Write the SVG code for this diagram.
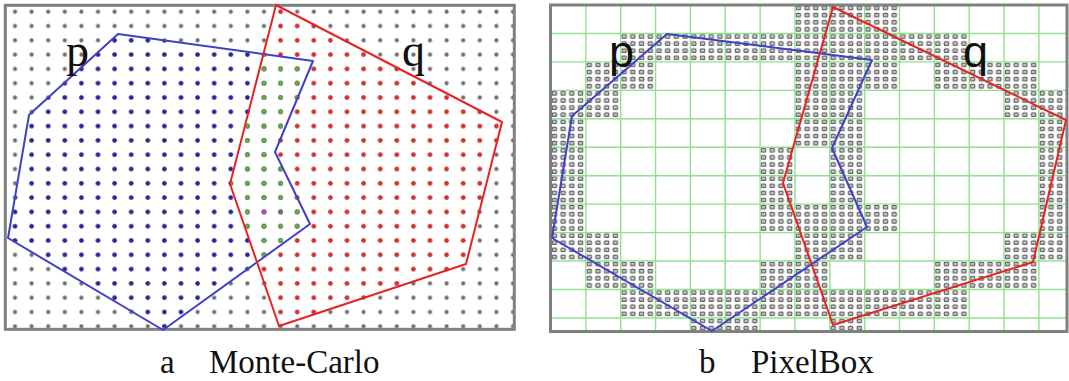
<svg xmlns="http://www.w3.org/2000/svg" width="1069" height="381" viewBox="0 0 1069 381">
<style>
.frame{fill:none;stroke:#808080;stroke-width:3}
.pl{fill:none;stroke:#4040c8;stroke-width:2;stroke-linejoin:round}
.ql{fill:none;stroke:#e82222;stroke-width:2;stroke-linejoin:round}
.grid line{stroke:#8fe08f;stroke-width:1.4}
.cells rect{fill:url(#fd)}
.serif{font-family:"Liberation Serif","Times New Roman",serif;fill:#111}
.sans{font-family:"Liberation Sans",Arial,sans-serif;fill:#111}
</style>
<defs>
<pattern id="dg" patternUnits="userSpaceOnUse" x="6.7" y="4.55" width="16.6" height="14.3"><circle cx="8.3" cy="7.15" r="2.1" fill="#707070"/></pattern>
<pattern id="db" patternUnits="userSpaceOnUse" x="6.7" y="4.55" width="16.6" height="14.3"><circle cx="8.3" cy="7.15" r="2.2" fill="#2424a4"/></pattern>
<pattern id="dr" patternUnits="userSpaceOnUse" x="6.7" y="4.55" width="16.6" height="14.3"><circle cx="8.3" cy="7.15" r="2.2" fill="#e62a2a"/></pattern>
<pattern id="dgr" patternUnits="userSpaceOnUse" x="6.7" y="4.55" width="16.6" height="14.3"><circle cx="8.3" cy="7.15" r="2.2" fill="#45c245"/></pattern>
<pattern id="fd" patternUnits="userSpaceOnUse" x="551" y="5" width="8.7125" height="7.1125"><rect x="1.2" y="1.2" width="4.4" height="3.6" rx="0.9" fill="#c4c4c4" stroke="#5e5e5e" stroke-width="1.1"/></pattern>
<clipPath id="cp"><polygon points="118,34 313,61 275,152 310,224 163,330 8,238 29,115"/></clipPath>
<clipPath id="cq"><polygon points="276,5 502,122 466,264 279,326 230,184"/></clipPath>
</defs>

<g id="panel-a">
  <g id="dots-a">
    <rect x="7" y="6" width="506" height="323" fill="url(#dg)"/>
    <rect x="7" y="6" width="506" height="323" fill="url(#db)" clip-path="url(#cp)"/>
    <rect x="7" y="6" width="506" height="323" fill="url(#dr)" clip-path="url(#cq)"/>
    <g clip-path="url(#cp)"><rect x="7" y="6" width="506" height="323" fill="url(#dgr)" clip-path="url(#cq)"/></g>
    <circle cx="264" cy="211.9" r="2.1" fill="#c040c0"/>
    <circle cx="280.6" cy="211.9" r="2.2" fill="#707070"/>
  </g>
  <rect class="frame" x="5.3" y="5.3" width="509" height="324"/>
  <g id="poly-p-a"><polygon class="pl" points="118,34 313,61 275,152 310,224 163,330 8,238 29,115"/></g>
  <g id="poly-q-a"><polygon class="ql" points="276,5 502,122 466,264 279,326 230,184"/></g>
  <text class="serif" x="66" y="66" font-size="46">p</text>
  <text class="serif" x="402" y="66" font-size="46">q</text>
</g>

<g id="panel-b">
  <g class="cells" id="cells-b">
    <rect x="794.95" y="5" width="104.55" height="28.45"/>
    <rect x="620.7" y="33.45" width="348.5" height="28.45"/>
    <rect x="585.85" y="61.9" width="69.7" height="28.45"/>
    <rect x="794.95" y="61.9" width="104.55" height="28.45"/>
    <rect x="934.35" y="61.9" width="104.55" height="28.45"/>
    <rect x="551" y="90.35" width="69.7" height="28.45"/>
    <rect x="794.95" y="90.35" width="69.7" height="28.45"/>
    <rect x="1004.05" y="90.35" width="63" height="28.45"/>
    <rect x="551" y="118.8" width="34.85" height="28.45"/>
    <rect x="794.95" y="118.8" width="69.7" height="28.45"/>
    <rect x="1038.9" y="118.8" width="28.1" height="28.45"/>
    <rect x="551" y="147.25" width="34.85" height="56.9"/>
    <rect x="760.1" y="147.25" width="34.85" height="56.9"/>
    <rect x="829.8" y="147.25" width="34.85" height="56.9"/>
    <rect x="1038.9" y="147.25" width="28.1" height="85.35"/>
    <rect x="551" y="204.15" width="34.85" height="28.45"/>
    <rect x="760.1" y="204.15" width="139.4" height="28.45"/>
    <rect x="551" y="232.6" width="69.7" height="28.45"/>
    <rect x="794.95" y="232.6" width="69.7" height="28.45"/>
    <rect x="1004.05" y="232.6" width="63" height="28.45"/>
    <rect x="585.85" y="261.05" width="69.7" height="28.45"/>
    <rect x="760.1" y="261.05" width="69.7" height="28.45"/>
    <rect x="934.35" y="261.05" width="104.55" height="28.45"/>
    <rect x="620.7" y="289.5" width="348.5" height="28.45"/>
    <rect x="690.4" y="317.95" width="69.7" height="13.05"/>
    <rect x="829.8" y="317.95" width="34.85" height="13.05"/>
  </g>
  <g class="grid" id="grid-b">
    <line x1="585.85" y1="5" x2="585.85" y2="331"/>
    <line x1="620.7" y1="5" x2="620.7" y2="331"/>
    <line x1="655.55" y1="5" x2="655.55" y2="331"/>
    <line x1="690.4" y1="5" x2="690.4" y2="331"/>
    <line x1="725.25" y1="5" x2="725.25" y2="331"/>
    <line x1="760.1" y1="5" x2="760.1" y2="331"/>
    <line x1="794.95" y1="5" x2="794.95" y2="331"/>
    <line x1="829.8" y1="5" x2="829.8" y2="331"/>
    <line x1="864.65" y1="5" x2="864.65" y2="331"/>
    <line x1="899.5" y1="5" x2="899.5" y2="331"/>
    <line x1="934.35" y1="5" x2="934.35" y2="331"/>
    <line x1="969.2" y1="5" x2="969.2" y2="331"/>
    <line x1="1004.05" y1="5" x2="1004.05" y2="331"/>
    <line x1="1038.9" y1="5" x2="1038.9" y2="331"/>
    <line x1="551" y1="33.45" x2="1067" y2="33.45"/>
    <line x1="551" y1="61.9" x2="1067" y2="61.9"/>
    <line x1="551" y1="90.35" x2="1067" y2="90.35"/>
    <line x1="551" y1="118.8" x2="1067" y2="118.8"/>
    <line x1="551" y1="147.25" x2="1067" y2="147.25"/>
    <line x1="551" y1="175.7" x2="1067" y2="175.7"/>
    <line x1="551" y1="204.15" x2="1067" y2="204.15"/>
    <line x1="551" y1="232.6" x2="1067" y2="232.6"/>
    <line x1="551" y1="261.05" x2="1067" y2="261.05"/>
    <line x1="551" y1="289.5" x2="1067" y2="289.5"/>
    <line x1="551" y1="317.95" x2="1067" y2="317.95"/>
  </g>
  <rect class="frame" x="550.5" y="5" width="516.5" height="326.5"/>
  <g id="poly-p-b"><polygon class="pl" points="667,34 872,60 832,148 867,227 712,331 552,238 572,116"/></g>
  <g id="poly-q-b"><polygon class="ql" points="833,7 1066,120 1033,262 833,325 783,183"/></g>
  <text class="sans" x="609" y="67" font-size="45">p</text>
  <text class="sans" x="963" y="67" font-size="45">q</text>
</g>

<g id="captions">
  <text class="serif" x="160" y="373" font-size="33">a</text>
  <text class="serif" x="209" y="373" font-size="33">Monte-Carlo</text>
  <text class="serif" x="699" y="373" font-size="33">b</text>
  <text class="serif" x="751" y="373" font-size="33">PixelBox</text>
</g>
</svg>
